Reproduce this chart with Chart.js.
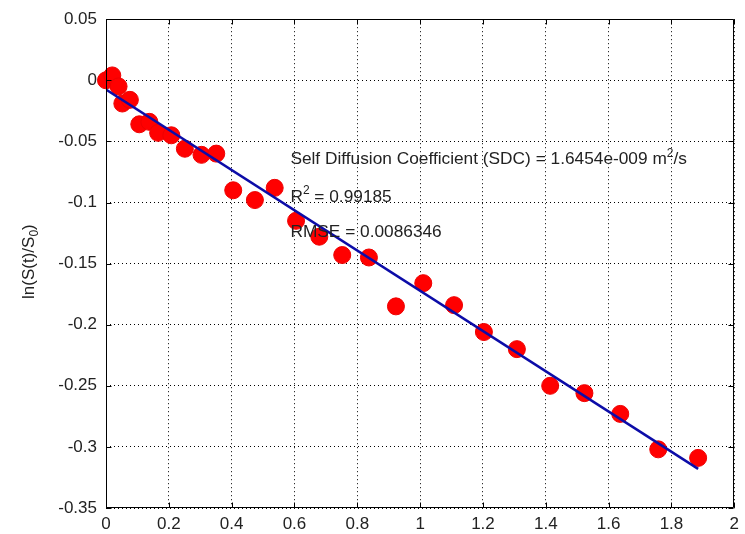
<!DOCTYPE html>
<html>
<head>
<meta charset="utf-8">
<script src="https://cdn.jsdelivr.net/npm/chart.js@4.4.1/dist/chart.umd.min.js"></script>
<style>
  html, body { margin: 0; padding: 0; background: #ffffff; }
  #wrap { width: 745px; height: 534px; position: relative; }
</style>
</head>
<body>
<div id="wrap"><canvas id="c" width="745" height="534"></canvas></div>
<script>
// ---- data ----
const measuredX = [0, 0.02, 0.04, 0.052, 0.076, 0.106, 0.138, 0.166, 0.208, 0.251, 0.304, 0.351,
  0.405, 0.474, 0.537, 0.605, 0.679, 0.752, 0.837, 0.923, 1.01, 1.108, 1.203, 1.308, 1.414,
  1.523, 1.637, 1.758, 1.885];
const measuredY = [0, 0.004, -0.005, -0.019, -0.016, -0.036, -0.034, -0.043, -0.045, -0.056, -0.061, -0.060,
  -0.090, -0.098, -0.088, -0.115, -0.128, -0.143, -0.145, -0.185, -0.166, -0.184, -0.206, -0.220, -0.250,
  -0.256, -0.273, -0.302, -0.309];
const fitX = [0, 1.885];
const fitY = [-0.0075, -0.318];

const xTickValues = [0, 0.2, 0.4, 0.6, 0.8, 1, 1.2, 1.4, 1.6, 1.8, 2];
const xTickLabels = ['0', '0.2', '0.4', '0.6', '0.8', '1', '1.2', '1.4', '1.6', '1.8', '2'];
const yTickValues = [-0.35, -0.3, -0.25, -0.2, -0.15, -0.1, -0.05, 0, 0.05];
const yTickLabels = ['-0.35', '-0.3', '-0.25', '-0.2', '-0.15', '-0.1', '-0.05', '0', '0.05'];

const annotationLines = [
  [{ t: 'Self Diffusion Coefficient (SDC) = 1.6454e-009 m' }, { t: '2', sup: true }, { t: '/s' }],
  [{ t: 'R' }, { t: '2', sup: true }, { t: ' = 0.99185' }],
  [{ t: 'RMSE = 0.0086346' }]
];
const annotationX = 0.587;
const annotationY = [-0.0685, -0.0992, -0.128];
const yTitle = [{ t: 'ln(S(t)/S' }, { t: '0', sub: true }, { t: ')' }];

// ---- drawing ----
const FONT = '"Liberation Sans", Arial, sans-serif';
const TEXT = '#222222';

function drawRich(ctx, segs, x, y, size) {
  let cx = x;
  for (const s of segs) {
    const fs = (s.sup || s.sub) ? Math.round(size * 0.7) : size;
    ctx.font = fs + 'px ' + FONT;
    const dy = s.sup ? -size * 0.42 : (s.sub ? size * 0.25 : 0);
    ctx.fillText(s.t, cx, y + dy);
    cx += ctx.measureText(s.t).width;
  }
  return cx - x;
}
function richWidth(ctx, segs, size) {
  let w = 0;
  for (const s of segs) {
    const fs = (s.sup || s.sub) ? Math.round(size * 0.7) : size;
    ctx.font = fs + 'px ' + FONT;
    w += ctx.measureText(s.t).width;
  }
  return w;
}

const overlay = {
  id: 'overlay',
  afterDatasetsDraw(chart) {
    const { ctx, chartArea: a, scales: { x, y } } = chart;
    ctx.save();
    ctx.strokeStyle = '#000';
    ctx.lineWidth = 1;
    const L = Math.round(a.left) + 0.5, R = Math.round(a.right) - 0.5;
    const T = Math.round(a.top) + 0.5, B = Math.round(a.bottom) - 0.5;
    ctx.beginPath();
    ctx.rect(L, T, R - L, B - T);
    // inner tick marks on all four sides
    const tl = 5;
    for (const v of xTickValues) {
      const px = Math.round(x.getPixelForValue(v)) + 0.5;
      ctx.moveTo(px, B); ctx.lineTo(px, B - tl);
      ctx.moveTo(px, T); ctx.lineTo(px, T + tl);
    }
    for (const v of yTickValues) {
      const py = Math.round(y.getPixelForValue(v)) + 0.5;
      ctx.moveTo(L, py); ctx.lineTo(L + tl, py);
      ctx.moveTo(R, py); ctx.lineTo(R - tl, py);
    }
    ctx.stroke();

    // annotations
    ctx.fillStyle = TEXT;
    ctx.textBaseline = 'alphabetic';
    ctx.textAlign = 'left';
    const ax = x.getPixelForValue(annotationX);
    annotationLines.forEach((segs, i) => {
      drawRich(ctx, segs, ax, y.getPixelForValue(annotationY[i]), 17.3);
    });

    // y axis title
    const cy = (a.top + a.bottom) / 2 - 2;
    ctx.translate(34, cy);
    ctx.rotate(-Math.PI / 2);
    const w = richWidth(ctx, yTitle, 17);
    drawRich(ctx, yTitle, -w / 2, 0, 17);
    ctx.restore();
  }
};

const scatterPoints = measuredX.map((v, i) => ({ x: v, y: measuredY[i] }));
const fitPoints = fitX.map((v, i) => ({ x: v, y: fitY[i] }));

new Chart(document.getElementById('c'), {
  type: 'scatter',
  data: {
    datasets: [
      {
        type: 'line',
        data: fitPoints,
        borderColor: '#0c0ca8',
        borderWidth: 2.5,
        pointRadius: 0,
        fill: false,
        order: 0
      },
      {
        data: scatterPoints,
        pointStyle: 'circle',
        pointRadius: 8.5,
        pointBackgroundColor: '#ff0000',
        pointBorderColor: '#ee0000',
        pointBorderWidth: 1,
        showLine: false,
        clip: false,
        order: 1
      }
    ]
  },
  options: {
    responsive: false,
    animation: false,
    events: [],
    layout: { padding: { left: 0, top: 12, right: 9, bottom: 0 } },
    plugins: { legend: { display: false }, tooltip: { enabled: false } },
    scales: {
      x: {
        type: 'linear',
        min: 0, max: 2,
        afterBuildTicks(s) { s.ticks = xTickValues.map(v => ({ value: v })); },
        afterFit(s) { s.height = 26; },
        ticks: {
          autoSkip: false, maxRotation: 0, padding: 6,
          color: TEXT, font: { family: FONT, size: 17 },
          callback: (v, i) => xTickLabels[i]
        },
        grid: { color: '#000', lineWidth: 1, drawTicks: false },
        border: { display: false, dash: [1, 3] }
      },
      y: {
        type: 'linear',
        min: -0.35, max: 0.05,
        afterBuildTicks(s) { s.ticks = yTickValues.map(v => ({ value: v })); },
        afterFit(s) { s.width = 106; },
        ticks: {
          autoSkip: false, padding: 9,
          color: TEXT, font: { family: FONT, size: 17 },
          callback: (v, i) => yTickLabels[i]
        },
        grid: { color: '#000', lineWidth: 1, drawTicks: false },
        border: { display: false, dash: [1, 3] }
      }
    }
  },
  plugins: [overlay]
});
</script>
</body>
</html>
